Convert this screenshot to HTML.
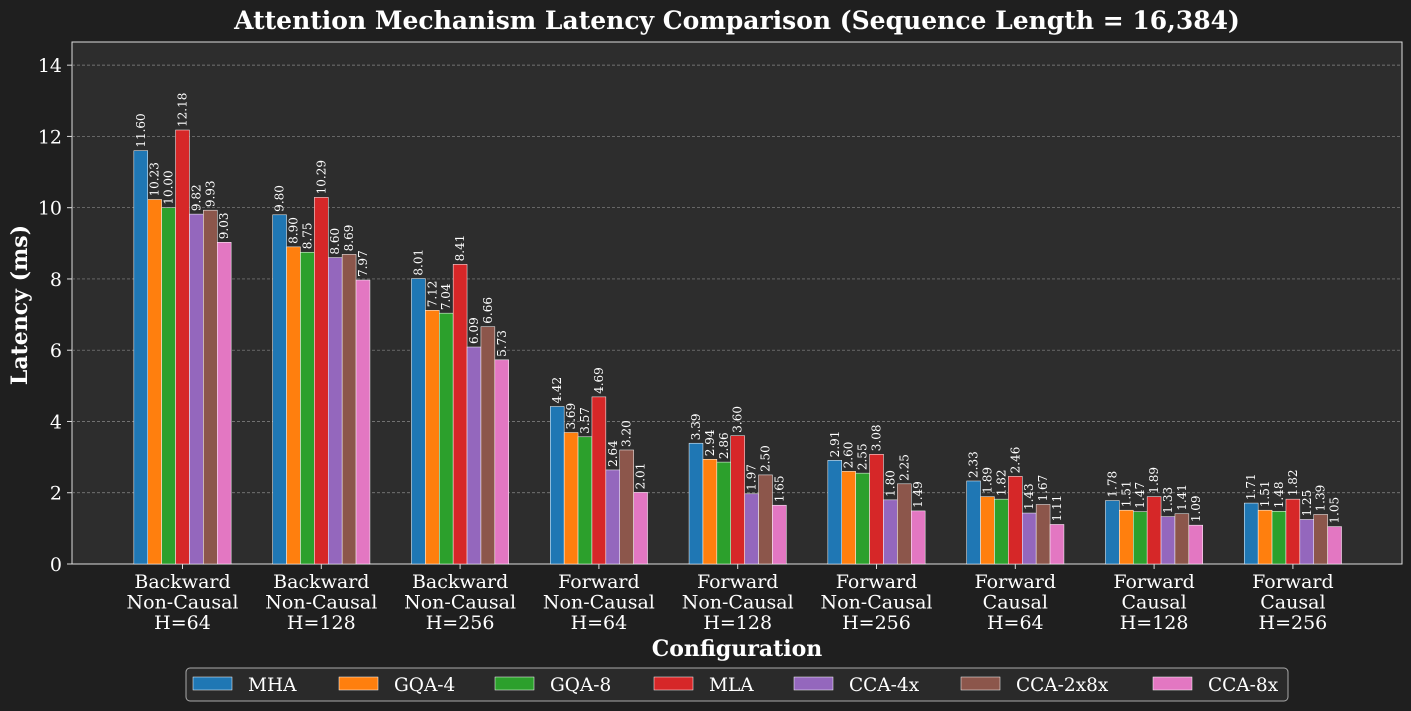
<!DOCTYPE html>
<html><head><meta charset="utf-8">
<style>
html,body{margin:0;padding:0;background:#1f1f1f;}
svg{display:block;font-family:"DejaVu Serif","Liberation Serif",serif;}
</style></head>
<body>
<svg id="chart" width="1411" height="711" viewBox="0 0 1411 711">
<rect width="1411" height="711" fill="#1f1f1f"/>
<text x="737" y="29" text-anchor="middle" fill="#fff" font-size="25" font-weight="bold">Attention Mechanism Latency Comparison (Sequence Length = 16,384)</text>
<rect x="72" y="42" width="1330" height="522" fill="#2d2d2d" stroke="#ddd" stroke-width="1"/>
<g id="grid"></g><g id="bars"></g><g id="xt"></g><g id="yt"></g>
<text x="737" y="656" text-anchor="middle" fill="#fff" font-size="22" font-weight="bold">Configuration</text>
<text transform="translate(27,305) rotate(-90)" text-anchor="middle" fill="#fff" font-size="22" font-weight="bold">Latency (ms)</text>
<rect x="186" y="668" width="1102" height="33" rx="4" fill="#2a2a2a" stroke="#aaa"/>
<g id="leg"></g>
</svg>
<script>
const categories=[["Backward","Non-Causal","H=64"],["Backward","Non-Causal","H=128"],["Backward","Non-Causal","H=256"],["Forward","Non-Causal","H=64"],["Forward","Non-Causal","H=128"],["Forward","Non-Causal","H=256"],["Forward","Causal","H=64"],["Forward","Causal","H=128"],["Forward","Causal","H=256"]];
const seriesNames=["MHA","GQA-4","GQA-8","MLA","CCA-4x","CCA-2x8x","CCA-8x"];
const colors=["#1f77b4","#ff7f0e","#2ca02c","#d62728","#9467bd","#8c564b","#e377c2"];
const MHA=[11.60,9.80,8.01,4.42,3.39,2.91,2.33,1.78,1.71];
const GQA4=[10.23,8.90,7.12,3.69,2.94,2.60,1.89,1.51,1.51];
const GQA8=[10.00,8.75,7.04,3.57,2.86,2.55,1.82,1.47,1.48];
const MLA=[12.18,10.29,8.41,4.69,3.60,3.08,2.46,1.89,1.82];
const CCA4=[9.82,8.60,6.09,2.64,1.97,1.80,1.43,1.33,1.25];
const CCA28=[9.93,8.69,6.66,3.20,2.50,2.25,1.67,1.41,1.39];
const CCA8=[9.03,7.97,5.73,2.01,1.65,1.49,1.11,1.09,1.05];
const series=[MHA,GQA4,GQA8,MLA,CCA4,CCA28,CCA8];
const yTicks=[0,2,4,6,8,10,12,14];
const legX=[193,339,495,654,794,961,1153];
const NS="http://www.w3.org/2000/svg";
const y0=564,yTop=42,yMax=14.65;
const ys=v=>y0-v*(y0-yTop)/yMax;
const xc=i=>182.5+i*138.8;
const bw=13.9;
function mk(t,a,p){const e=document.createElementNS(NS,t);for(const k in a)e.setAttribute(k,a[k]);p.appendChild(e);return e;}
const grid=document.getElementById('grid'),yt=document.getElementById('yt');
yTicks.forEach(v=>{
 if(v>0){const l=mk('line',{x1:72,x2:1402,y1:ys(v),y2:ys(v),stroke:'#888','stroke-dasharray':'3,2','stroke-width':0.7},grid);
 }
 const t=mk('text',{x:62,y:ys(v)+7,'text-anchor':'end',fill:'#fff','font-size':19},yt);t.textContent=v;
 
 mk('line',{x1:67,x2:72,y1:ys(v),y2:ys(v),stroke:'#ddd'},yt);
});
const bars=document.getElementById('bars'),xt=document.getElementById('xt');
categories.forEach((c,i)=>{
 series.forEach((s,j)=>{
  const x=xc(i)+(j-3.5)*bw;
  const r=mk('rect',{x:x,y:ys(s[i]),width:bw,height:y0-ys(s[i]),fill:colors[j],stroke:'#fff','stroke-width':0.5},bars);
  
  
  const tx=x+bw/2+4,ty=ys(s[i])-3;
  const t=mk('text',{x:tx,y:ty,transform:`rotate(-90 ${tx} ${ty})`,fill:'#fff','font-size':12},bars);
  t.textContent=s[i].toFixed(2);
  
  
 });
 mk('line',{x1:xc(i),x2:xc(i),y1:564,y2:569,stroke:'#ddd'},xt);
 c.forEach((ln,k)=>{const t=mk('text',{x:xc(i),y:588+k*20.5,'text-anchor':'middle',fill:'#fff','font-size':19},xt);t.textContent=ln;
  });
});
const leg=document.getElementById('leg');
seriesNames.forEach((n,j)=>{
 const x=legX[j];
 const g=mk('g',{},leg);
 
 
 mk('rect',{x:x,y:677,width:39,height:13,fill:colors[j],stroke:'#fff','stroke-width':0.5},g);
 const t=mk('text',{x:x+55,y:691,fill:'#fff','font-size':18.5},g);t.textContent=n;
});
</script>
</body></html>
